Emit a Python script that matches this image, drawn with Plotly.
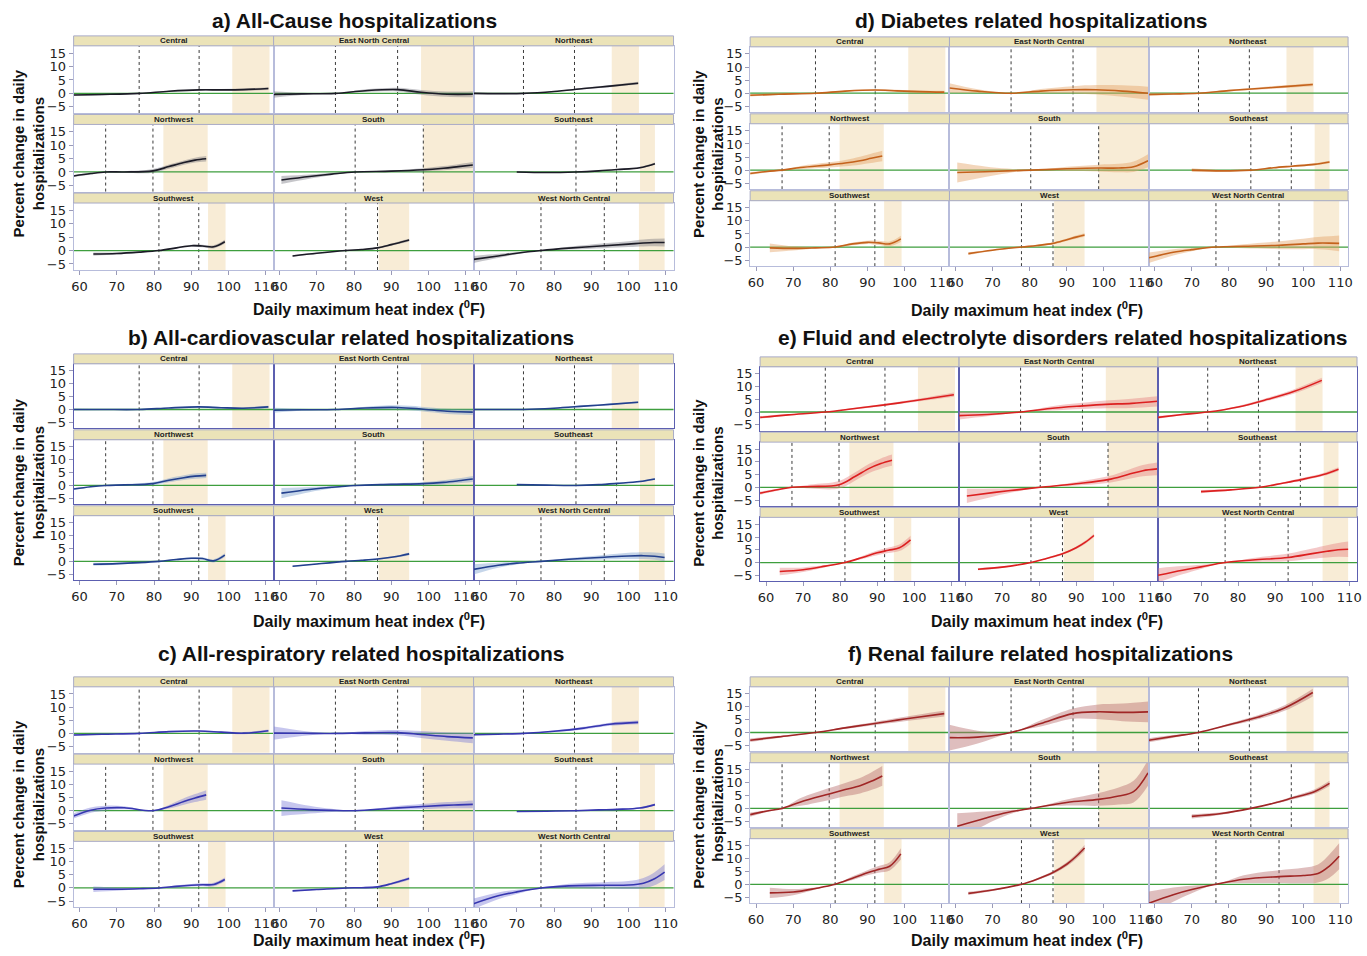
import plotly.graph_objects as go

# ---------------- data ----------------
regions = ["Central", "East North Central", "Northeast",
           "Northwest", "South", "Southeast",
           "Southwest", "West", "West North Central"]

# heat-index grid (deg F) at which each region's curve was read
grid = {
    "Central":            [58.4, 66, 76, 84, 92, 98, 104, 110.7],
    "East North Central": [58.4, 66, 75, 83, 91.7, 98, 105, 111.9],
    "Northeast":          [58.4, 65, 71.8, 80, 88, 95, 102.6],
    "Northwest":          [58.4, 63, 67, 72, 79.7, 84, 88, 91, 94],
    "South":              [60.5, 68, 74, 80.3, 90, 98.6, 104, 108, 111.9],
    "Southeast":          [70, 78, 85.9, 92, 97, 103, 107.1],
    "Southwest":          [63.7, 70, 76, 81.3, 86, 90, 93, 96, 99],
    "West":               [63.5, 70, 77.8, 82, 86.3, 90, 92.5, 94.8],
    "West North Central": [58.4, 65, 70, 76.5, 84, 93.5, 100, 104, 107, 109.7],
}
# dotted reference lines (deg F)
ref_low = [76.0, 75.0, 71.8, 67.0, 80.3, 85.9, 81.3, 77.8, 76.5]
ref_high = [92.1, 91.7, 85.5, 79.7, 98.6, 96.8, 92.0, 86.3, 93.5]
# shaded extreme heat range (deg F)
band_lo = [101.0, 98.0, 95.5, 82.5, 98.6, 103.1, 94.5, 86.6, 102.8]
band_hi = [111.0, 112.5, 102.8, 94.4, 112.5, 107.1, 99.2, 94.8, 109.7]

# percent change (a) all-cause
allcause = {
    "Central": [-0.6, -0.4, 0, 0.8, 1.3, 1.3, 1.4, 1.8],
    "East North Central": [-0.4, -0.2, 0, 1.0, 1.4, 0.4, -0.3, -0.3],
    "Northeast": [0, -0.1, 0, 0.7, 1.8, 2.7, 3.8],
    "Northwest": [-1.5, -0.6, 0, 0, 0.4, 2.0, 3.5, 4.4, 4.9],
    "South": [-3.0, -1.7, -0.8, 0, 0.3, 0.8, 1.4, 2.0, 2.6],
    "Southeast": [0, -0.2, 0, 0.4, 0.9, 1.6, 3.1],
    "Southwest": [-1.3, -1.1, -0.6, 0, 1.0, 1.8, 1.7, 1.4, 3.3],
    "West": [-2.0, -1.0, 0, 0.4, 1.0, 2.2, 3.1, 3.9],
    "West North Central": [-3.3, -2.0, -1.0, 0, 0.9, 1.8, 2.4, 2.8, 3.0, 3.0],
}
allcause_ci = {
    "Central": [0.4, 0.3, 0, 0.2, 0.3, 0.3, 0.4, 0.5],
    "East North Central": [1.2, 0.4, 0, 0.5, 0.7, 0.9, 1.0, 1.1],
    "Northeast": [0.3, 0.2, 0, 0.2, 0.3, 0.4, 0.5],
    "Northwest": [0.4, 0.3, 0, 0.3, 0.7, 0.8, 0.8, 0.9, 1.0],
    "South": [1.5, 0.8, 0.4, 0, 0.3, 0.6, 0.8, 0.9, 1.1],
    "Southeast": [0.3, 0.15, 0, 0.15, 0.2, 0.3, 0.4],
    "Southwest": [0.6, 0.4, 0.2, 0, 0.3, 0.4, 0.5, 0.6, 0.7],
    "West": [0.3, 0.2, 0, 0.2, 0.3, 0.4, 0.5, 0.5],
    "West North Central": [1.3, 0.8, 0.4, 0, 0.5, 0.9, 1.1, 1.3, 1.4, 1.5],
}

# (b) all-cardiovascular
cardio = {
    "Central": [0, 0, 0, 0.6, 1.0, 0.7, 0.5, 1.0],
    "East North Central": [-0.3, -0.1, 0, 0.6, 0.8, 0.2, -0.7, -1.0],
    "Northeast": [0, 0, 0, 0.5, 1.3, 2.0, 2.8],
    "Northwest": [-1.4, -0.5, 0, 0.2, 0.7, 2.0, 3.0, 3.6, 3.9],
    "South": [-3.0, -1.6, -0.7, 0, 0.4, 0.7, 1.2, 1.8, 2.5],
    "Southeast": [0.3, 0.1, 0, 0.3, 0.8, 1.5, 2.5],
    "Southwest": [-1.1, -0.9, -0.5, 0, 0.7, 1.2, 1.1, 0.2, 2.4],
    "West": [-1.9, -1.0, 0, 0.4, 0.9, 1.6, 2.2, 2.9],
    "West North Central": [-3.1, -1.5, -0.7, 0, 0.8, 1.6, 2.1, 2.2, 2.0, 1.5],
}
cardio_ci = {
    "Central": [0.3, 0.2, 0, 0.2, 0.3, 0.3, 0.4, 0.5],
    "East North Central": [1.0, 0.4, 0, 0.5, 0.8, 0.9, 1.0, 1.1],
    "Northeast": [0.2, 0.2, 0, 0.2, 0.3, 0.3, 0.4],
    "Northwest": [0.4, 0.2, 0, 0.3, 0.6, 0.8, 0.9, 1.0, 1.0],
    "South": [2.0, 1.0, 0.5, 0, 0.4, 0.6, 0.8, 1.0, 1.2],
    "Southeast": [0.2, 0.1, 0, 0.15, 0.2, 0.3, 0.4],
    "Southwest": [0.6, 0.4, 0.2, 0, 0.3, 0.4, 0.5, 0.6, 0.7],
    "West": [0.3, 0.2, 0, 0.2, 0.3, 0.3, 0.4, 0.5],
    "West North Central": [2.0, 1.0, 0.5, 0, 0.5, 0.9, 1.2, 1.3, 1.4, 1.5],
}

# (c) all-respiratory
resp = {
    "Central": [-0.6, -0.3, 0, 0.7, 0.9, 0.5, 0.1, 1.0],
    "East North Central": [0.1, 0.05, 0, 0.2, 0.3, -0.4, -1.2, -1.7],
    "Northeast": [-0.5, -0.3, 0, 0.8, 2.0, 3.5, 4.2],
    "Northwest": [-2.0, 0.2, 1.0, 1.1, 0, 1.5, 3.5, 4.8, 6.0],
    "South": [1.0, 0.4, 0.1, 0, 0.9, 1.6, 2.0, 2.2, 2.4],
    "Southeast": [-0.3, -0.2, 0, 0.3, 0.5, 1.0, 2.3],
    "Southwest": [-0.5, -0.5, -0.3, 0, 0.6, 1.0, 1.2, 1.3, 3.2],
    "West": [-1.1, -0.6, 0, 0.1, 0.4, 1.6, 2.6, 3.6],
    "West North Central": [-6.0, -3.0, -1.5, 0, 0.8, 1.0, 1.1, 1.8, 3.5, 6.0],
}
resp_ci = {
    "Central": [0.4, 0.2, 0, 0.2, 0.3, 0.3, 0.4, 0.5],
    "East North Central": [2.5, 1.0, 0, 0.7, 1.0, 1.3, 1.6, 2.0],
    "Northeast": [0.3, 0.2, 0, 0.3, 0.5, 0.6, 0.7],
    "Northwest": [1.0, 1.0, 0.9, 0.6, 0, 0.7, 1.2, 1.5, 1.8],
    "South": [3.0, 1.5, 0.6, 0, 0.6, 1.0, 1.2, 1.3, 1.5],
    "Southeast": [0.2, 0.1, 0, 0.15, 0.2, 0.3, 0.4],
    "Southwest": [1.0, 0.6, 0.2, 0, 0.4, 0.5, 0.6, 0.7, 0.8],
    "West": [0.3, 0.2, 0, 0.2, 0.3, 0.4, 0.5, 0.6],
    "West North Central": [2.0, 1.3, 0.8, 0, 0.8, 1.2, 1.5, 2.0, 2.5, 3.0],
}

# (d) diabetes
diab = {
    "Central": [-0.8, -0.4, 0, 0.8, 1.2, 0.9, 0.6, 0.4],
    "East North Central": [2.0, 0.8, 0, 0.8, 1.3, 1.3, 0.8, 0],
    "Northeast": [-0.5, -0.3, 0, 1.0, 1.8, 2.5, 3.3],
    "Northwest": [-1.3, -0.5, 0, 1.0, 2.0, 2.7, 3.6, 4.5, 5.4],
    "South": [-0.9, -0.6, -0.3, 0, 0.5, 0.8, 0.8, 1.3, 3.6],
    "Southeast": [0, -0.3, 0, 0.9, 1.5, 2.2, 3.1],
    "Southwest": [-0.3, -0.5, -0.3, 0, 1.2, 1.8, 1.6, 1.2, 3.1],
    "West": [-2.5, -1.2, 0, 0.6, 1.4, 2.8, 3.8, 4.6],
    "West North Central": [-4.1, -2.0, -1.0, 0, 0.3, 0.7, 1.2, 1.5, 1.5, 1.4],
}
diab_ci = {
    "Central": [0.5, 0.3, 0, 0.2, 0.3, 0.4, 0.4, 0.5],
    "East North Central": [1.8, 0.7, 0, 0.8, 1.4, 1.8, 2.2, 2.5],
    "Northeast": [0.6, 0.3, 0, 0.3, 0.4, 0.5, 0.6],
    "Northwest": [0.5, 0.3, 0, 0.6, 1.0, 1.2, 1.5, 1.8, 2.0],
    "South": [3.8, 2.0, 0.9, 0, 0.8, 1.3, 1.6, 2.0, 2.5],
    "Southeast": [0.7, 0.3, 0, 0.2, 0.3, 0.4, 0.5],
    "Southwest": [1.7, 0.8, 0.3, 0, 0.5, 0.6, 0.8, 0.9, 1.2],
    "West": [0.5, 0.3, 0, 0.3, 0.4, 0.5, 0.6, 0.7],
    "West North Central": [2.0, 1.2, 0.6, 0, 0.8, 1.5, 2.0, 2.3, 2.6, 3.0],
}

# (e) fluid and electrolyte disorders
fluid = {
    "Central": [-2.1, -1.1, 0, 1.4, 2.8, 4.0, 5.3, 6.8],
    "East North Central": [-1.4, -1.0, 0, 1.4, 2.4, 3.0, 3.4, 4.2],
    "Northeast": [-2.1, -1.0, 0, 2.0, 5.0, 8.0, 12.4],
    "Northwest": [-2.3, -1.0, 0, 0.3, 1.0, 4.2, 7.5, 9.3, 10.6],
    "South": [-3.4, -2.0, -1.0, 0, 1.4, 3.0, 5.0, 6.5, 7.2],
    "Southeast": [-1.7, -1.0, 0, 1.6, 3.0, 5.0, 7.1],
    "Southwest": [-3.5, -2.8, -1.4, 0, 2.0, 3.8, 4.8, 5.8, 8.9],
    "West": [-2.6, -1.8, 0, 1.6, 3.4, 5.8, 8.0, 10.6],
    "West North Central": [-5.0, -3.0, -1.7, 0, 1.0, 2.0, 3.5, 4.4, 5.0, 5.2],
}
fluid_ci = {
    "Central": [0.5, 0.3, 0, 0.3, 0.4, 0.5, 0.6, 0.8],
    "East North Central": [1.5, 0.7, 0, 0.8, 1.2, 1.5, 1.8, 2.0],
    "Northeast": [0.5, 0.3, 0, 0.4, 0.6, 0.8, 1.0],
    "Northwest": [0.6, 0.4, 0, 0.8, 1.5, 1.6, 1.8, 2.0, 2.2],
    "South": [2.8, 1.5, 0.7, 0, 0.7, 1.3, 1.8, 2.2, 2.5],
    "Southeast": [0.6, 0.3, 0, 0.3, 0.5, 0.6, 0.7],
    "Southwest": [1.5, 0.9, 0.4, 0, 0.6, 0.9, 1.1, 1.3, 1.6],
    "West": [0.4, 0.3, 0, 0.3, 0.4, 0.5, 0.6, 0.7],
    "West North Central": [2.8, 1.6, 0.8, 0, 0.8, 1.5, 2.0, 2.4, 2.7, 3.0],
}

# (f) renal failure
renal = {
    "Central": [-3.0, -1.7, 0, 1.8, 3.5, 4.8, 6.0, 7.3],
    "East North Central": [-2.0, -1.8, 0, 3.5, 7.3, 8.0, 7.8, 8.0],
    "Northeast": [-3.0, -1.5, 0, 3.0, 6.0, 9.5, 15.5],
    "Northwest": [-2.4, -1.0, 0, 2.5, 5.6, 7.3, 8.8, 10.5, 12.6],
    "South": [-6.9, -3.8, -1.6, 0, 2.3, 3.5, 4.8, 6.5, 13.8],
    "Southeast": [-3.1, -2.0, 0, 2.0, 4.0, 6.5, 9.7],
    "Southwest": [-3.3, -3.0, -1.6, 0, 2.4, 4.5, 5.8, 7.0, 11.8],
    "West": [-3.5, -2.2, 0, 2.0, 4.6, 7.8, 10.8, 14.1],
    "West North Central": [-7.3, -4.0, -2.0, 0, 2.0, 3.0, 3.4, 4.2, 7.0, 10.9],
}
renal_ci = {
    "Central": [0.7, 0.4, 0, 0.4, 0.6, 0.8, 1.0, 1.1],
    "East North Central": [5.0, 2.5, 0, 1.2, 2.0, 2.8, 3.4, 4.0],
    "Northeast": [0.8, 0.5, 0, 0.5, 0.8, 1.1, 1.5],
    "Northwest": [0.8, 0.4, 0, 1.5, 2.3, 2.6, 3.0, 3.4, 3.8],
    "South": [5.0, 2.6, 1.0, 0, 1.2, 2.5, 3.3, 4.2, 5.0],
    "Southeast": [0.8, 0.5, 0, 0.3, 0.5, 0.8, 1.0],
    "Southwest": [2.0, 1.2, 0.4, 0, 0.7, 1.0, 1.3, 1.6, 2.2],
    "West": [0.6, 0.4, 0, 0.4, 0.6, 0.8, 1.0, 1.2],
    "West North Central": [4.5, 2.8, 1.5, 0, 1.5, 2.5, 3.0, 3.5, 4.5, 5.0],
}

x_ticks = [60, 70, 80, 90, 100, 110]
y_ticks = [-5, 0, 5, 10, 15]

# ---------------- layout helpers ----------------
W, H = 1367, 956
X_RANGE = [58.4, 112.1]
Y_RANGE = [-7.3, 17.7]
STRIP_H = 10
GAP = 1.5

panels = [
    dict(title="a) All-Cause hospitalizations", y=allcause, ci=allcause_ci,
         line="#1b1b26", fill="rgba(105,105,115,0.38)", frame="#b7bcdb",
         box=(72, 675, 35, 270), title_xy=(354, 20), xlab=(369, 308), ylab=(27, 153)),
    dict(title="b) All-cardiovascular related hospitalizations", y=cardio, ci=cardio_ci,
         line="#23408e", fill="rgba(110,150,200,0.40)", frame="#5c5fb0",
         box=(72, 675, 354, 581), title_xy=(351, 338), xlab=(369, 621), ylab=(27, 483)),
    dict(title="c) All-respiratory related hospitalizations", y=resp, ci=resp_ci,
         line="#3636b0", fill="rgba(120,120,215,0.42)", frame="#b7bcdb",
         box=(72, 675, 678, 909), title_xy=(361, 655), xlab=(369, 941), ylab=(27, 806)),
    dict(title="d) Diabetes related hospitalizations", y=diab, ci=diab_ci,
         line="#c4621c", fill="rgba(228,165,105,0.45)", frame="#b7bcdb",
         box=(752, 1353, 36, 266), title_xy=(1034, 20), xlab=(1030, 309), ylab=(710, 153)),
    dict(title="e) Fluid and electrolyte disorders related hospitalizations", y=fluid, ci=fluid_ci,
         line="#dc2020", fill="rgba(228,125,125,0.42)", frame="#5c5fb0",
         box=(762, 1362, 357, 582), title_xy=(1066, 338), xlab=(1050, 621), ylab=(710, 483)),
    dict(title="f) Renal failure related hospitalizations", y=renal, ci=renal_ci,
         line="#a02626", fill="rgba(185,110,110,0.45)", frame="#b7bcdb",
         box=(752, 1353, 678, 905), title_xy=(1044, 655), xlab=(1030, 941), ylab=(710, 806)),
]

TICKFONT = dict(family="DejaVu Sans", size=13, color="#222222")
BOLD = "Liberation Sans"


def px(x):
    return x / W


def py(y):
    return 1 - y / H


fig = go.Figure()
layout = dict(width=W, height=H, margin=dict(l=0, r=0, t=0, b=0),
              paper_bgcolor="white", plot_bgcolor="white", showlegend=False,
              autosize=False)
shapes = []
annotations = []

k = 0
for p in panels:
    L, R, T, B = p["box"]
    colw = (R - L) / 3
    rowh = (B - T - 2 * GAP) / 3
    for i, reg in enumerate(regions):
        r, c = divmod(i, 3)
        k += 1
        xs = grid[reg]
        ys = p["y"][reg]
        cs = p["ci"][reg]
        lo = [a - b for a, b in zip(ys, cs)]
        hi = [a + b for a, b in zip(ys, cs)]
        suf = "" if k == 1 else str(k)
        xa, ya = f"x{suf}", f"y{suf}"
        x0 = L + c * colw
        x1 = x0 + colw
        s0 = T + r * (rowh + GAP)
        s1 = s0 + STRIP_H
        pb = s0 + rowh

        fig.add_trace(go.Scatter(x=xs, y=lo, mode="lines", xaxis=xa, yaxis=ya,
                                 line=dict(width=0, shape="spline", color=p["fill"]),
                                 hoverinfo="skip"))
        fig.add_trace(go.Scatter(x=xs, y=hi, mode="lines", xaxis=xa, yaxis=ya,
                                 fill="tonexty", fillcolor=p["fill"],
                                 line=dict(width=0, shape="spline", color=p["fill"]),
                                 hoverinfo="skip"))
        fig.add_trace(go.Scatter(x=xs, y=ys, mode="lines", xaxis=xa, yaxis=ya,
                                 line=dict(width=1.6, shape="spline", color=p["line"])))

        bottom = r == 2
        left = c == 0
        layout[f"xaxis{suf}"] = dict(
            domain=[px(x0), px(x1)], anchor=ya, range=X_RANGE,
            tickvals=x_ticks, showticklabels=bottom, ticks="outside" if bottom else "",
            ticklen=4, tickcolor="#9a9ab8", tickfont=TICKFONT,
            showgrid=False, zeroline=False, showline=True, mirror=True,
            linecolor=p["frame"], linewidth=1, fixedrange=True)
        layout[f"yaxis{suf}"] = dict(
            domain=[py(pb), py(s1)], anchor=xa, range=Y_RANGE,
            tickvals=y_ticks, showticklabels=left, ticks="outside" if left else "",
            ticklen=4, tickcolor="#9a9ab8", tickfont=TICKFONT,
            showgrid=False, zeroline=False, showline=True, mirror=True,
            linecolor=p["frame"], linewidth=1, fixedrange=True)

        # extreme heat band
        shapes.append(dict(type="rect", xref=xa, yref=f"{ya} domain",
                           x0=band_lo[i], x1=band_hi[i], y0=0, y1=1,
                           fillcolor="#f8ecd6", line=dict(width=0), layer="below"))
        # reference lines
        for v in (ref_low[i], ref_high[i]):
            shapes.append(dict(type="line", xref=xa, yref=f"{ya} domain",
                               x0=v, x1=v, y0=0, y1=1,
                               line=dict(color="#3a3a3a", width=1, dash="dot"), layer="below"))
        # zero line
        shapes.append(dict(type="line", xref=f"{xa} domain", yref=ya,
                           x0=0, x1=1, y0=0, y1=0,
                           line=dict(color="#3e9e3e", width=1.3), layer="below"))
        # strip
        shapes.append(dict(type="rect", xref="paper", yref="paper",
                           x0=px(x0), x1=px(x1), y0=py(s1), y1=py(s0),
                           fillcolor="#ebe3b8", line=dict(color="#a9abc6", width=1)))
        annotations.append(dict(text=f"<b>{reg}</b>", xref="paper", yref="paper",
                                x=px((x0 + x1) / 2), y=py((s0 + s1) / 2),
                                showarrow=False, xanchor="center", yanchor="middle",
                                font=dict(family="Liberation Sans Narrow, Liberation Sans", size=8,
                                          color="#222222")))

    # panel title
    annotations.append(dict(text=f"<b>{p['title']}</b>", xref="paper", yref="paper",
                            x=px(p["title_xy"][0]), y=py(p["title_xy"][1]),
                            showarrow=False, xanchor="center", yanchor="middle",
                            font=dict(family=BOLD, size=21, color="#111111")))
    # x axis title
    annotations.append(dict(text="<b>Daily maximum heat index (<sup>0</sup>F)</b>",
                            xref="paper", yref="paper",
                            x=px(p["xlab"][0]), y=py(p["xlab"][1]),
                            showarrow=False, xanchor="center", yanchor="middle",
                            font=dict(family=BOLD, size=16, color="#111111")))
    # y axis title
    annotations.append(dict(text="<b>Percent change in daily<br>hospitalizations</b>",
                            xref="paper", yref="paper",
                            x=px(p["ylab"][0]), y=py(p["ylab"][1]), textangle=-90,
                            showarrow=False, xanchor="center", yanchor="middle",
                            font=dict(family=BOLD, size=15, color="#111111")))

layout["shapes"] = shapes
layout["annotations"] = annotations
fig.update_layout(**layout)

fig.write_html("out.html", config={"displayModeBar": False},
               post_script="document.body.style.margin='0';document.body.style.overflow='hidden';")
